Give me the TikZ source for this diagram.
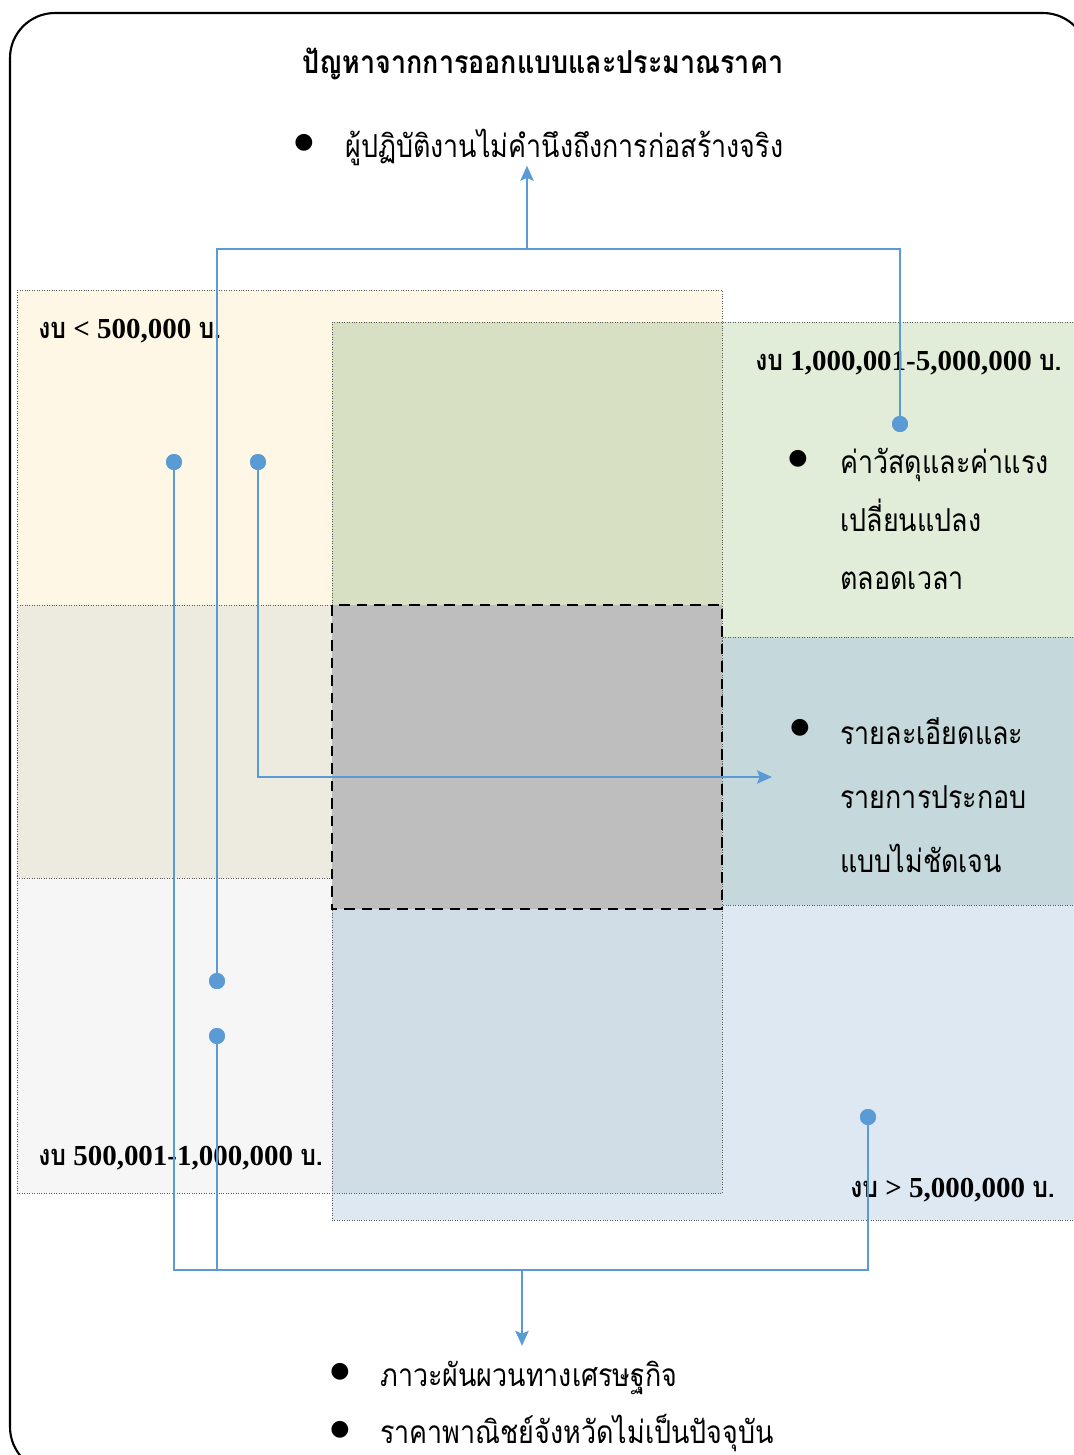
\documentclass[tikz,border=0pt]{standalone}
\usepackage{fontspec}
\setmainfont{Liberation Serif}
\newfontfamily\thaifont[Script=Thai, FakeStretch=0.85]{Loma}
\newfontfamily\symfont{DejaVu Sans}
\usetikzlibrary{arrows.meta}

\definecolor{linkblue}{HTML}{5B9BD5}
\definecolor{lowfill}{HTML}{FFF7E6}
\definecolor{midfill}{HTML}{F6F6F6}
\definecolor{lowmid}{HTML}{EDEBE0}
\definecolor{highfill}{HTML}{E2EDD9}
\definecolor{topfill}{HTML}{DEE8F3}
\definecolor{hightop}{HTML}{C5D8DB}
\definecolor{lowhigh}{HTML}{D8E0C4}
\definecolor{midtop}{HTML}{D0DCE6}
\definecolor{corefill}{HTML}{BEBEBE}

\tikzset{
  zone/.style={draw=black!65, densely dotted, line width=0.4pt},
  link/.style={draw=linkblue, line width=1.3pt},
  hub/.style={circle, fill=linkblue, inner sep=0pt, minimum size=0.32cm},
  budget/.style={font=\bfseries\fontsize{16.5}{20}\selectfont, inner sep=0pt, anchor=west},
  item/.style={font=\thaifont\fontsize{18}{33}\selectfont, align=left, inner sep=0pt},
  bul/.style={font=\symfont\fontsize{12.5}{12.5}\selectfont, inner sep=0pt},
  tip/.style={-{Stealth[length=8.5pt, width=7.5pt, inset=1.5pt]}}
}

\begin{document}
\begin{tikzpicture}[x=0.02cm, y=-0.02cm]
\useasboundingbox (0,0) rectangle (1073,1455);

% outer frame
\draw[line width=1.2pt, rounded corners=0.9cm] (10,13) rectangle (1088,1472);

% title
\node[font=\thaifont\bfseries\fontsize{18}{20}\selectfont] (title) at (543,64) {ปัญหาจากการออกแบบและประมาณราคา};

% budget zones (fills first, overlaps on top)
\fill[lowfill] (17,290) rectangle (722,878);
\fill[midfill] (17,605) rectangle (722,1193);
\fill[lowmid] (17,605) rectangle (722,878);
\fill[highfill] (332,322) rectangle (1080,905);
\fill[topfill] (332,637) rectangle (1080,1220);
\fill[hightop] (332,637) rectangle (1080,905);
\fill[lowhigh] (332,322) rectangle (722,605);
\fill[midtop] (332,909) rectangle (722,1193);

\draw[zone] (17,290) rectangle (722,878);
\draw[zone] (17,605) rectangle (722,1193);
\draw[zone] (332,322) rectangle (1080,905);
\draw[zone] (332,637) rectangle (1080,1220);

% common core
\draw[fill=corefill, line width=1.6pt, dash pattern=on 6pt off 4pt] (332,605) rectangle (722,909);

% zone labels
\node[budget] (low) at (38,331) {{\thaifont งบ} < 500,000 {\thaifont บ.}};
\node[budget] (high) at (755,363) {{\thaifont งบ} 1,000,001-5,000,000 {\thaifont บ.}};
\node[budget] (mid) at (38,1158) {{\thaifont งบ} 500,001-1,000,000 {\thaifont บ.}};
\node[budget] (top) at (850,1190) {{\thaifont งบ} > 5,000,000 {\thaifont บ.}};

% problems
\node[bul] at (304,143) {●};
\node[item, anchor=west] (work) at (345,147) {ผู้ปฏิบัติงานไม่คำนึงถึงการก่อสร้างจริง};

\node[bul] at (798,459) {●};
\node[item, anchor=north west] (cost) at (840,448) {ค่าวัสดุและค่าแรง\\เปลี่ยนแปลง\\ตลอดเวลา};

\node[bul] at (800,728) {●};
\node[item, anchor=north west, font=\thaifont\fontsize{18}{36.4}\selectfont] (detail) at (840,717) {รายละเอียดและ\\รายการประกอบ\\แบบไม่ชัดเจน};

\node[bul] at (340,1372) {●};
\node[item, anchor=west] (econ) at (380,1378) {ภาวะผันผวนทางเศรษฐกิจ};
\node[bul] at (340,1430) {●};
\node[item, anchor=west] (price) at (380,1433) {ราคาพาณิชย์จังหวัดไม่เป็นปัจจุบัน};

% junctions
\coordinate (up) at (527,249);
\coordinate (down) at (522,1270);
\coordinate (todetail) at (772,777);

% link dots
\node[hub] (lowA) at (174,462) {};
\node[hub] (lowB) at (258,462) {};
\node[hub] (midA) at (217,981) {};
\node[hub] (midB) at (217,1036) {};
\node[hub] (highA) at (900,424) {};
\node[hub] (topA) at (868,1117) {};

% connectors
\draw[link] (midA.center) -- (midA.center |- up) -- (highA.center |- up) -- (highA.center);
\draw[link, tip] (up) -- (up |- work.south);

\draw[link, tip] (lowB.center) |- (todetail);

\draw[link] (lowA.center) -- (lowA.center |- down) -- (topA.center |- down) -- (topA.center);
\draw[link] (midB.center) -- (midB.center |- down);
\draw[link, tip] (down) -- ([yshift=0.3cm]down |- econ.north);

% dots on top
\foreach \h in {lowA, lowB, midA, midB, highA, topA}
  \fill[linkblue] (\h) circle (8);

\end{tikzpicture}
\end{document}
